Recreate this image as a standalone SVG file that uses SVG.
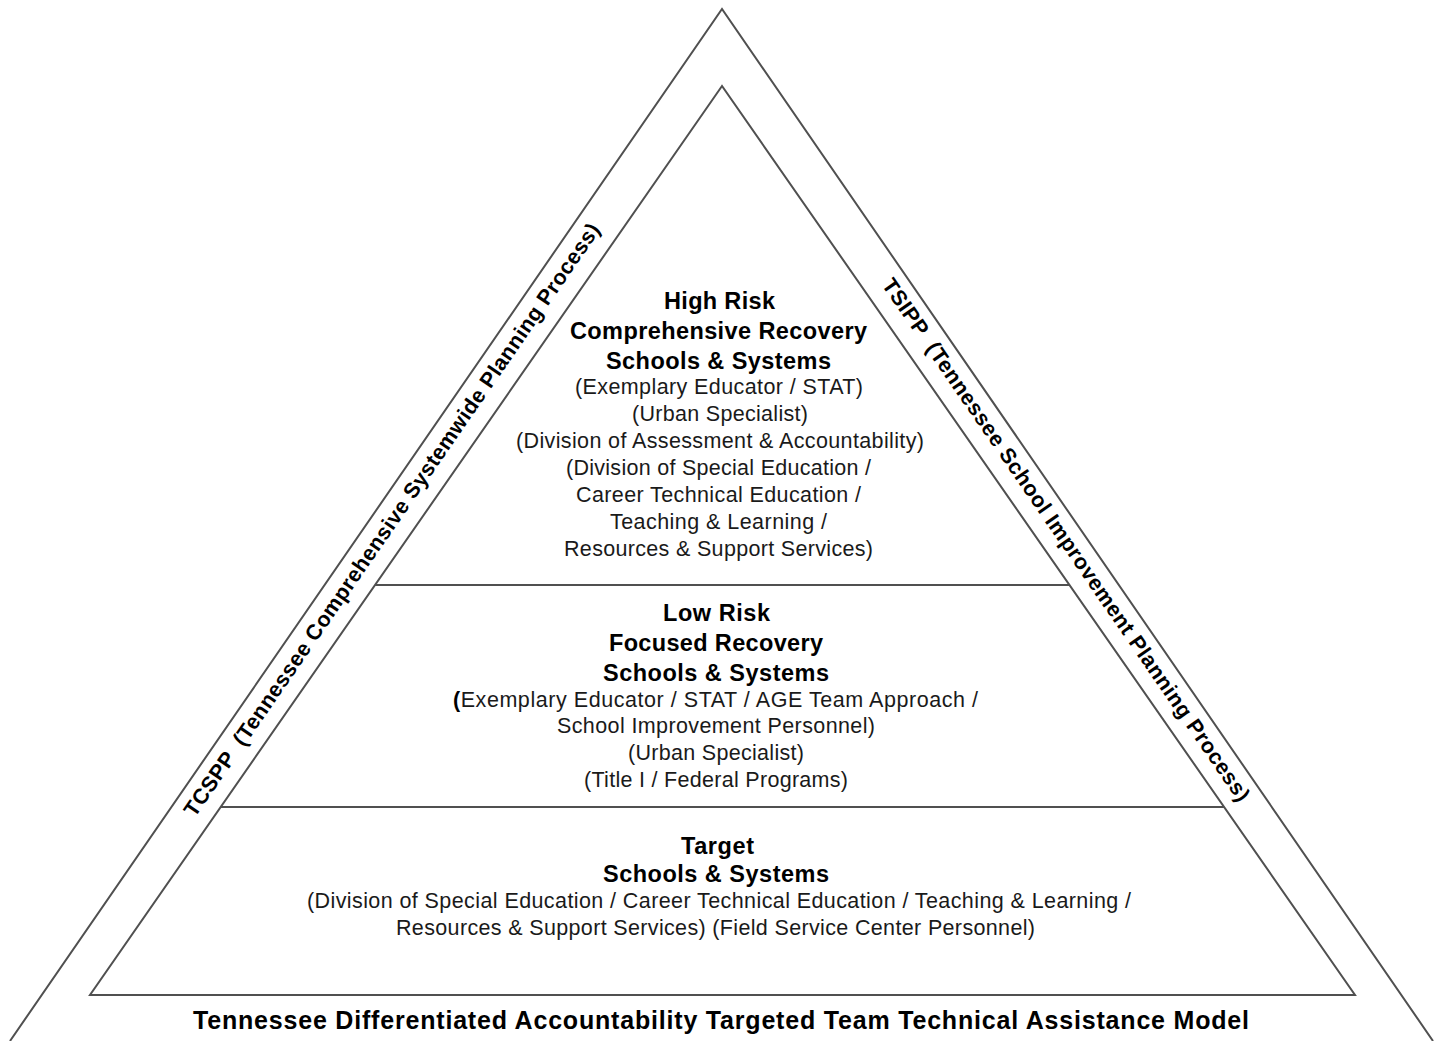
<svg xmlns="http://www.w3.org/2000/svg" width="1446" height="1041" viewBox="0 0 1446 1041">
<style>
.ln{fill:none;stroke:#505050;stroke-width:2;stroke-linejoin:miter}
.h{font-family:"Liberation Sans",Arial,sans-serif;font-weight:bold;font-size:23.5px;fill:#000;text-anchor:middle}
.t{font-family:"Liberation Sans",Arial,sans-serif;font-size:21.5px;fill:#1a1a1a;text-anchor:middle}
.s{font-family:"Liberation Sans",Arial,sans-serif;font-weight:bold;font-size:21.5px;fill:#000;text-anchor:middle}
.ti{font-size:25px}
</style>
<rect width="1446" height="1041" fill="#fff"/>
<g id="connectors">
<polyline class="ln" points="10,1041 722,9 1433,1041"/>
<polygon class="ln" points="722,86 90,995 1355,995"/>
<line class="ln" x1="375" y1="585" x2="1069" y2="585"/>
<line class="ln" x1="220" y1="807" x2="1224" y2="807"/>
</g>
<g id="tier-high">
<text class="h" x="719.5" y="309" textLength="111" lengthAdjust="spacing">High Risk</text>
<text class="h" x="718.5" y="339" textLength="297" lengthAdjust="spacing">Comprehensive Recovery</text>
<text class="h" x="718.5" y="369" textLength="225" lengthAdjust="spacing">Schools &amp; Systems</text>
<text class="t" x="719" y="394" textLength="288" lengthAdjust="spacing">(Exemplary Educator / STAT)</text>
<text class="t" x="720" y="421" textLength="176" lengthAdjust="spacing">(Urban Specialist)</text>
<text class="t" x="720" y="448" textLength="408" lengthAdjust="spacing">(Division of Assessment &amp; Accountability)</text>
<text class="t" x="718.5" y="475" textLength="305" lengthAdjust="spacing">(Division of Special Education /</text>
<text class="t" x="718.5" y="502" textLength="285" lengthAdjust="spacing">Career Technical Education /</text>
<text class="t" x="718.5" y="529" textLength="217" lengthAdjust="spacing">Teaching &amp; Learning /</text>
<text class="t" x="718.5" y="556" textLength="309" lengthAdjust="spacing">Resources &amp; Support Services)</text>
</g>
<g id="tier-low">
<text class="h" x="716.5" y="621" textLength="107" lengthAdjust="spacing">Low Risk</text>
<text class="h" x="716" y="651" textLength="214" lengthAdjust="spacing">Focused Recovery</text>
<text class="h" x="716" y="681" textLength="226" lengthAdjust="spacing">Schools &amp; Systems</text>
<text class="t" x="715.5" y="707" textLength="525" lengthAdjust="spacing"><tspan font-weight="bold" fill="#000">(</tspan>Exemplary Educator / STAT / AGE Team Approach /</text>
<text class="t" x="716" y="733" textLength="318" lengthAdjust="spacing">School Improvement Personnel)</text>
<text class="t" x="716" y="760" textLength="176" lengthAdjust="spacing">(Urban Specialist)</text>
<text class="t" x="716" y="787" textLength="264" lengthAdjust="spacing">(Title I / Federal Programs)</text>
</g>
<g id="tier-target">
<text class="h" x="717.5" y="854" textLength="73" lengthAdjust="spacing">Target</text>
<text class="h" x="716" y="882" textLength="226" lengthAdjust="spacing">Schools &amp; Systems</text>
<text class="t" x="719" y="908" textLength="824" lengthAdjust="spacing">(Division of Special Education / Career Technical Education / Teaching &amp; Learning /</text>
<text class="t" x="715.5" y="935" textLength="639" lengthAdjust="spacing">Resources &amp; Support Services) (Field Service Center Personnel)</text>
</g>
<g id="label-tcspp">
<text class="s" transform="translate(392,520) rotate(-55.4)" x="0" y="7" textLength="715" lengthAdjust="spacing" xml:space="preserve">TCSPP  (Tennessee Comprehensive Systemwide Planning Process)</text>
</g>
<g id="label-tsipp">
<text class="s" transform="translate(1066,540) rotate(55.4)" x="0" y="7" textLength="630" lengthAdjust="spacing" xml:space="preserve">TSIPP  (Tennessee School Improvement Planning Process)</text>
</g>
<g id="title">
<text class="h ti" x="721" y="1029" textLength="1056" lengthAdjust="spacing">Tennessee Differentiated Accountability Targeted Team Technical Assistance Model</text>
</g>
</svg>
